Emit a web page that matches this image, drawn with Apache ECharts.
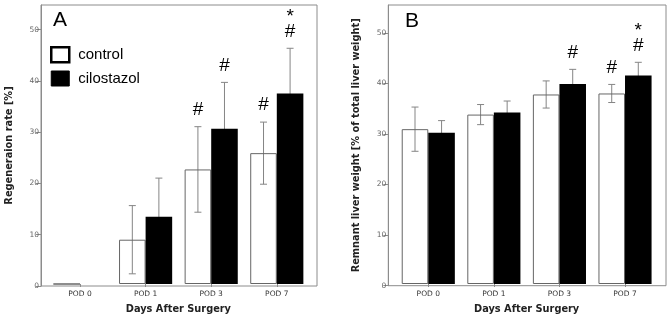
<!DOCTYPE html>
<html><head><meta charset="utf-8">
<script src="https://cdn.jsdelivr.net/npm/echarts@6/dist/echarts.min.js"></script>
<style>html,body{margin:0;padding:0;background:#fff}#c{width:668px;height:319px}</style>
</head><body><div id="c"></div>
<script>
const categories = ['POD 0', 'POD 1', 'POD 3', 'POD 7'];
const yTicks = [0, 10, 20, 30, 40, 50];

// Panel A: Regeneration rate [%]
const regenControl = [0, 8.7, 22.5, 25.7];
const regenControlErr = [0, 6.7, 8.4, 6.1];
const regenCilo = [0, 13.2, 30.5, 37.4];
const regenCiloErr = [0, 7.6, 9.1, 8.9];
const regenControlMarks = [[], [], ['#'], ['#']];
const regenCiloMarks = [[], [], ['#'], ['#', '*']];

// Panel B: Remnant liver weight [% of total liver weight]
const liverControl = [30.8, 33.7, 37.7, 37.9];
const liverControlErr = [4.4, 2.0, 2.7, 1.8];
const liverCilo = [30.1, 34.1, 39.8, 41.5];
const liverCiloErr = [2.4, 2.3, 2.9, 2.6];
const liverControlMarks = [[], [], [], ['#']];
const liverCiloMarks = [[], [], ['#'], ['#', '*']];

const chart = echarts.init(document.getElementById('c'), null, {renderer: 'canvas'});
const SANS = 'DejaVu Sans';
const ARIAL = 'Liberation Sans';
const FRAME = '#8c8c8c';

function errSeries(name, xIdx, yIdx, means, errs, marks, frac) {
  return {
    type: 'custom', name: name, xAxisIndex: xIdx, yAxisIndex: yIdx, z: 1, silent: true,
    data: means.map((m, i) => [i, m, errs[i]]),
    encode: {x: 0, y: 1},
    renderItem: function (params, api) {
      const i = api.value(0), m = api.value(1), e = api.value(2);
      const band = api.size([1, 0])[0];
      const cx = api.coord([i, 0])[0] + frac * band;
      const top = api.coord([i, m + e])[1];
      const bot = api.coord([i, m - e])[1];
      const cap = 3.5;
      const st = {stroke: '#858585', lineWidth: 1};
      const children = [];
      if (e > 0) {
        children.push({type: 'line', shape: {x1: cx, y1: top, x2: cx, y2: bot}, style: st});
        children.push({type: 'line', shape: {x1: cx - cap, y1: top, x2: cx + cap, y2: top}, style: st});
        children.push({type: 'line', shape: {x1: cx - cap, y1: bot, x2: cx + cap, y2: bot}, style: st});
      }
      const mk = marks[i];
      mk.forEach((t, k) => {
        const y = t === '#' ? top - 17 : top - 32 - (k - 1) * 18;
        children.push({type: 'text', z2: 10, style: {text: t, x: cx, y: y, align: 'center', verticalAlign: 'middle',
          font: '19px "' + ARIAL + '"', fill: '#000'}});
      });
      return {type: 'group', children: children};
    }
  };
}

function barSeries(name, xIdx, yIdx, data, isControl) {
  return {
    type: 'bar', name: name, xAxisIndex: xIdx, yAxisIndex: yIdx, data: data, z: 2,
    barGap: '0%', barCategoryGap: '19%', silent: true,
    itemStyle: isControl ? {color: 'rgba(255,255,255,0)', borderColor: '#666', borderWidth: 1}
                         : {color: '#000', borderWidth: 0}
  };
}

function frameY(gridIdx, max, name, gap) {
  return {
    type: 'value', gridIndex: gridIdx, min: 0, max: max, interval: 10,
    axisLine: {show: true, lineStyle: {color: FRAME}},
    axisTick: {show: true, length: 5, lineStyle: {color: FRAME}, customValues: yTicks},
    axisLabel: {fontSize: 7.5, color: '#666', margin: 2, fontFamily: SANS, customValues: yTicks},
    splitLine: {show: false},
    name: name, nameLocation: 'middle', nameGap: gap, nameRotate: 90,
    nameTextStyle: {fontFamily: SANS, fontWeight: 'bold', fontSize: 9.8, color: '#222'}
  };
}
function dataY(gridIdx, max) {
  return {type: 'value', gridIndex: gridIdx, min: 0, max: max, show: false};
}
function dataX(gridIdx) {
  return {
    type: 'category', gridIndex: gridIdx, data: categories,
    axisLine: {show: false},
    axisTick: {show: true, alignWithLabel: true, length: 3, lineStyle: {color: FRAME}},
    axisLabel: {fontSize: 7.5, color: '#333', margin: 6, fontFamily: SANS},
    name: 'Days After Surgery', nameLocation: 'middle', nameGap: 20,
    nameTextStyle: {fontFamily: SANS, fontWeight: 'bold', fontSize: 9.8, color: '#222'}
  };
}

const option = {
  animation: false,
  backgroundColor: '#fff',
  title: [
    {text: 'A', left: 53, top: 10, padding: 0, textStyle: {fontFamily: ARIAL, fontSize: 21, fontWeight: 'normal', color: '#000'}},
    {text: 'B', left: 405, top: 11, padding: 0, textStyle: {fontFamily: ARIAL, fontSize: 21, fontWeight: 'normal', color: '#000'}}
  ],
  legend: {
    left: 50, top: 46, orient: 'vertical', itemWidth: 18, itemHeight: 15, itemGap: 7, padding: 0,
    selectedMode: false, icon: 'rect',
    textStyle: {fontFamily: ARIAL, fontSize: 15, color: '#000', padding: [0, 0, 0, 4]},
    data: [
      {name: 'control', itemStyle: {color: '#fff', borderColor: '#000', borderWidth: 2.5}},
      {name: 'cilostazol', itemStyle: {color: '#000', borderColor: '#000', borderWidth: 1}}
    ]
  },
  grid: [
    {left: 41, top: 5, width: 276, height: 281, show: true, borderColor: FRAME, borderWidth: 1, backgroundColor: 'transparent'},
    {left: 47.2, top: 5, width: 262.4, height: 281},
    {left: 388.3, top: 5, width: 277.7, height: 280.7, show: true, borderColor: FRAME, borderWidth: 1, backgroundColor: 'transparent'},
    {left: 395.5, top: 5, width: 262.3, height: 280.7}
  ],
  xAxis: [
    {type: 'value', gridIndex: 0, min: 0, max: 1, show: false},
    dataX(1),
    {type: 'value', gridIndex: 2, min: 0, max: 1, show: false},
    dataX(3)
  ],
  yAxis: [
    frameY(0, 54.8, 'Regeneraion rate [%]', 27),
    dataY(1, 54.8),
    frameY(2, 55.5, 'Remnant liver weight [% of total liver weight]', 27),
    dataY(3, 55.5)
  ],
  series: [
    errSeries('control', 1, 1, regenControl, regenControlErr, regenControlMarks, -0.2025),
    errSeries('cilostazol', 1, 1, regenCilo, regenCiloErr, regenCiloMarks, 0.2025),
    barSeries('control', 1, 1, regenControl, true),
    barSeries('cilostazol', 1, 1, regenCilo, false),
    errSeries('control', 3, 3, liverControl, liverControlErr, liverControlMarks, -0.2025),
    errSeries('cilostazol', 3, 3, liverCilo, liverCiloErr, liverCiloMarks, 0.2025),
    barSeries('control', 3, 3, liverControl, true),
    barSeries('cilostazol', 3, 3, liverCilo, false)
  ]
};
chart.setOption(option);
</script></body></html>
